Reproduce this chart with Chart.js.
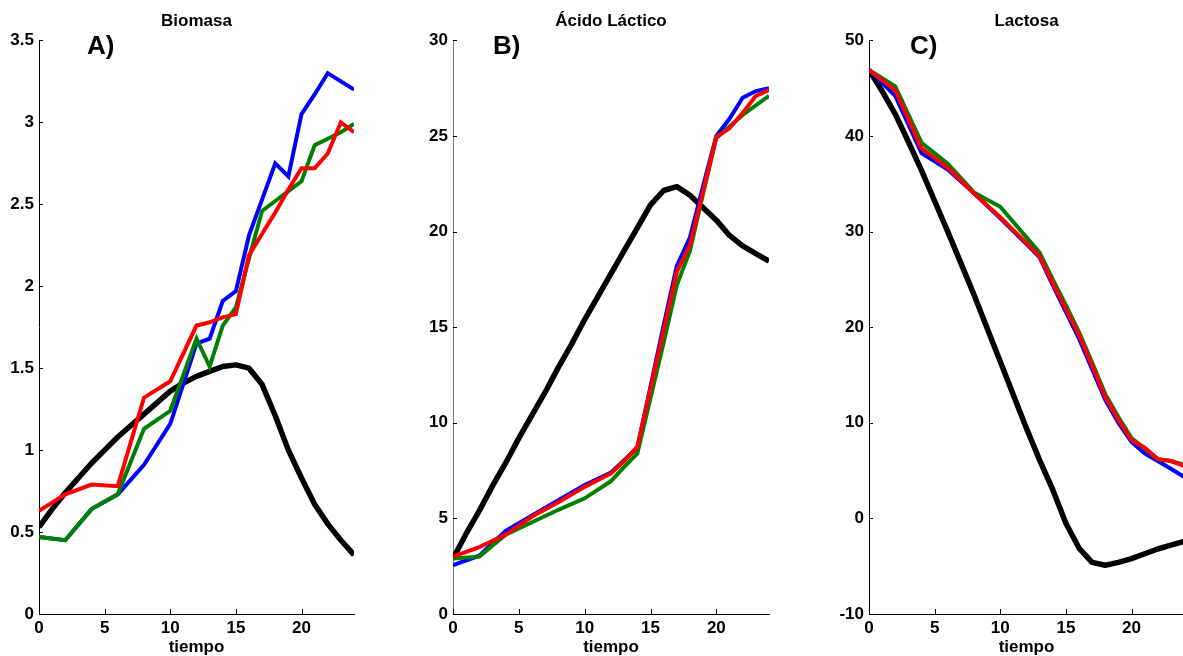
<!DOCTYPE html>
<html>
<head>
<meta charset="utf-8">
<script src="https://cdn.jsdelivr.net/npm/chart.js@4.4.1/dist/chart.umd.min.js"></script>
<style>
  html, body { margin: 0; padding: 0; background: #fff; }
  body { width: 1183px; height: 656px; position: relative; overflow: hidden; font-family: "Liberation Sans", Arial, sans-serif; }
  canvas { position: absolute; top: 0; }
  .tag { position: absolute; top: 32px; font: bold 26px/26px "Liberation Sans", Arial, sans-serif; color: #000; }
</style>
</head>
<body>
<canvas id="chartA" width="400" height="660" style="left:0px"></canvas>
<canvas id="chartB" width="400" height="660" style="left:400px"></canvas>
<canvas id="chartC" width="390" height="660" style="left:800px"></canvas>
<div class="tag" style="left:87px">A)</div>
<div class="tag" style="left:493px">B)</div>
<div class="tag" style="left:910px">C)</div>
<script>
// sampling times (h): measured series and model curve
var tExp = [0, 2, 4, 6, 8, 10, 12, 13, 14, 15, 16, 17, 18, 19, 20, 21, 22, 23, 24];
var tModel = [0, 1, 2, 3, 4, 5, 6, 7, 8, 9, 10, 11, 12, 13, 14, 15, 16, 17, 18, 19, 20, 21, 22, 23, 24];

// A) Biomasa
var bioBlue  = [0.47, 0.45, 0.64, 0.73, 0.91, 1.16, 1.65, 1.68, 1.91, 1.97, 2.31, 2.53, 2.75, 2.67, 3.05, 3.17, 3.30, 3.25, 3.20];
var bioGreen = [0.47, 0.45, 0.64, 0.73, 1.13, 1.24, 1.68, 1.51, 1.76, 1.87, 2.17, 2.46, 2.52, 2.58, 2.64, 2.86, 2.90, 2.94, 2.99];
var bioRed   = [0.63, 0.73, 0.79, 0.78, 1.32, 1.42, 1.76, 1.78, 1.81, 1.83, 2.19, 2.32, 2.45, 2.59, 2.72, 2.72, 2.81, 3.00, 2.94];
var bioModel = [0.53, 0.64, 0.74, 0.83, 0.92, 1.00, 1.08, 1.15, 1.22, 1.29, 1.36, 1.41, 1.45, 1.48, 1.51, 1.52, 1.50, 1.40, 1.21, 1.00, 0.83, 0.67, 0.55, 0.45, 0.36];

// B) Acido lactico
var lacBlue  = [2.55, 3.05, 4.35, 5.15, 5.95, 6.75, 7.40, 8.05, 8.70, 11.9, 15.1, 18.2, 19.7, 22.4, 25.0, 25.9, 27.0, 27.35, 27.5];
var lacGreen = [2.90, 3.00, 4.15, 4.80, 5.45, 6.05, 6.95, 7.70, 8.40, 11.3, 14.2, 17.2, 19.0, 22.0, 24.9, 25.5, 26.1, 26.6, 27.1];
var lacRed   = [3.00, 3.50, 4.15, 5.10, 5.85, 6.65, 7.35, 8.00, 8.75, 11.8, 14.85, 17.9, 19.3, 22.1, 24.95, 25.4, 26.2, 27.1, 27.4];
var lacModel = [2.9, 4.2, 5.4, 6.7, 7.9, 9.2, 10.4, 11.6, 12.9, 14.1, 15.4, 16.6, 17.8, 19.0, 20.2, 21.4, 22.15, 22.35, 21.9, 21.25, 20.6, 19.8, 19.25, 18.85, 18.45];

// C) Lactosa
var ltsBlue  = [46.9, 44.2, 38.2, 36.5, 34.0, 31.4, 28.7, 27.3, 24.4, 21.6, 18.8, 15.6, 12.4, 10.0, 8.0, 6.8, 6.0, 5.2, 4.35];
var ltsGreen = [46.9, 45.2, 39.3, 37.1, 34.1, 32.6, 29.4, 27.8, 25.0, 22.3, 19.5, 16.3, 13.0, 10.6, 8.4, 7.3, 6.2, 6.0, 5.6];
var ltsRed   = [46.9, 44.8, 38.7, 36.7, 34.0, 31.5, 28.8, 27.4, 24.6, 21.9, 19.2, 16.0, 12.7, 10.3, 8.2, 7.4, 6.2, 6.0, 5.5];
var ltsModel = [46.9, 44.7, 42.3, 39.4, 36.4, 33.2, 30.0, 26.7, 23.4, 19.9, 16.4, 12.9, 9.4, 6.1, 3.0, -0.5, -3.1, -4.6, -4.9, -4.6, -4.2, -3.7, -3.2, -2.8, -2.4];

var FONT = '"Liberation Sans", Arial, sans-serif';

function pts(ts, vs) {
    return ts.map(function(t, i){ return { x: t, y: vs[i] }; });
}

// MATLAB style: short tick marks pointing into the plot
var inwardTicks = {
    id: 'inwardTicks',
    afterDraw: function(chart){
        var ctx = chart.ctx, a = chart.chartArea, sx = chart.scales.x, sy = chart.scales.y;
        ctx.save();
        ctx.strokeStyle = '#000';
        ctx.lineWidth = 1;
        ctx.beginPath();
        sx.ticks.forEach(function(t){
            var px = Math.round(sx.getPixelForValue(t.value)) + 0.5;
            ctx.moveTo(px, a.bottom); ctx.lineTo(px, a.bottom - 5);
        });
        sy.ticks.forEach(function(t){
            var py = Math.round(sy.getPixelForValue(t.value)) + 0.5;
            ctx.moveTo(a.left, py); ctx.lineTo(a.left + 4, py);
        });
        ctx.stroke();
        ctx.restore();
    }
};

function makeChart(id, cfg){
    var ctx = document.getElementById(id).getContext('2d');
    return new Chart(ctx, {
        type: 'line',
        data: {
            datasets: [
                { data: pts(tExp, cfg.red),   borderColor: '#ff0000', borderWidth: 4 },
                { data: pts(tExp, cfg.green), borderColor: '#008000', borderWidth: 4 },
                { data: pts(tExp, cfg.blue),  borderColor: '#0000ff', borderWidth: 4 },
                { data: pts(tModel, cfg.model), borderColor: '#000000', borderWidth: 5.5, borderJoinStyle: 'round' }
            ]
        },
        options: {
            responsive: false,
            animation: false,
            devicePixelRatio: 1,
            layout: { padding: { left: 0, right: cfg.padRight, top: 0, bottom: 0 } },
            elements: { point: { radius: 0 }, line: { tension: 0, fill: false } },
            plugins: {
                legend: { display: false },
                tooltip: { enabled: false },
                title: {
                    display: true, text: cfg.title, fullSize: false, color: '#000',
                    font: { family: FONT, size: 17, weight: 'bold', lineHeight: 1.2 },
                    padding: { top: 11, bottom: 9 }
                }
            },
            scales: {
                x: {
                    type: 'linear', min: 0, max: 24,
                    grid: { display: false, drawTicks: false },
                    border: { display: true, color: '#000', width: 1 },
                    ticks: { stepSize: 5, includeBounds: false, color: '#000', padding: 4,
                             maxRotation: 0, font: { family: FONT, size: 17, weight: 'bold' } },
                    title: { display: true, text: 'tiempo', color: '#000', padding: { top: 0, bottom: 2 },
                             font: { family: FONT, size: 17, weight: 'bold', lineHeight: 1.2 } },
                    afterFit: function(s){ s.height = 46; }
                },
                y: {
                    type: 'linear', min: cfg.ymin, max: cfg.ymax,
                    grid: { display: false, drawTicks: false },
                    border: { display: true, color: cfg.yAxisColor, width: 1 },
                    ticks: { stepSize: cfg.ystep, color: '#000', padding: 5,
                             font: { family: FONT, size: 17, weight: 'bold' },
                             callback: function(v){ return String(Math.round(v * 10) / 10); } },
                    afterFit: function(s){ s.width = cfg.axisW; }
                }
            }
        },
        plugins: [inwardTicks]
    });
}

makeChart('chartA', { title: 'Biomasa', red: bioRed, green: bioGreen, blue: bioBlue, model: bioModel,
    ymin: 0, ymax: 3.5, ystep: 0.5, axisW: 39, padRight: 46, yAxisColor: '#000' });
makeChart('chartB', { title: 'Ácido Láctico', red: lacRed, green: lacGreen, blue: lacBlue, model: lacModel,
    ymin: 0, ymax: 30, ystep: 5, axisW: 53, padRight: 31, yAxisColor: '#777' });
makeChart('chartC', { title: 'Lactosa', red: ltsRed, green: ltsGreen, blue: ltsBlue, model: ltsModel,
    ymin: -10, ymax: 50, ystep: 10, axisW: 69, padRight: 6, yAxisColor: '#000' });
</script>
</body>
</html>
